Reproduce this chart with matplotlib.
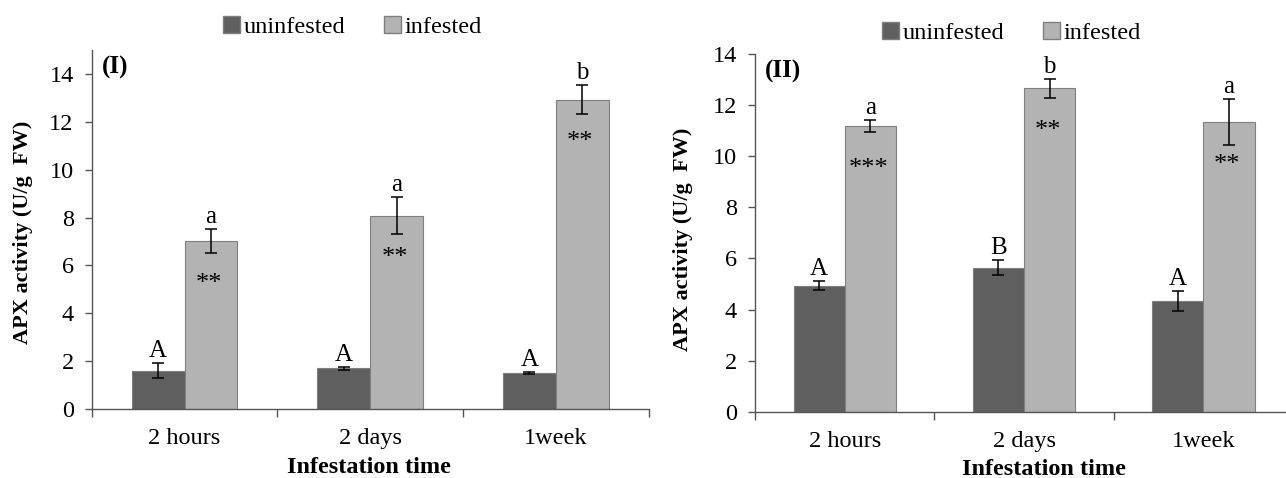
import numpy as np
import matplotlib.pyplot as plt
from matplotlib.patches import Patch

# ---- data ----
categories = ['2 hours', '2 days', '1week']

p1_uninf = [1.60, 1.70, 1.50]
p1_uninf_err = [0.32, 0.06, 0.03]
p1_inf = [7.02, 8.08, 12.93]
p1_inf_err = [0.51, 0.78, 0.60]
p1_uninf_letters = ['A', 'A', 'A']
p1_inf_letters = ['a', 'a', 'b']
p1_stars = ['**', '**', '**']

p2_uninf = [4.93, 5.64, 4.33]
p2_uninf_err = [0.17, 0.30, 0.38]
p2_inf = [11.17, 12.66, 11.34]
p2_inf_err = [0.23, 0.37, 0.90]
p2_uninf_letters = ['A', 'B', 'A']
p2_inf_letters = ['a', 'b', 'a']
p2_stars = ['***', '**', '**']

DARK = '#5f5f5f'
LIGHT = '#b3b3b3'
EDGE = '#7f7f7f'
AXC = '#555555'

plt.rcParams['font.family'] = ['Liberation Serif', 'DejaVu Serif']


def panel(ax, uninf, uerr, inf, ierr, ulet, ilet, stars, ymax, tag, xlab_x):
    x = np.arange(len(categories))
    w = 0.285
    ax.bar(x - w / 2, uninf, w, color=DARK, edgecolor=EDGE, linewidth=0.8,
           yerr=uerr, error_kw=dict(ecolor='black', elinewidth=1.1, capsize=4.3, capthick=1.1))
    ax.bar(x + w / 2, inf, w, color=LIGHT, edgecolor=EDGE, linewidth=0.8,
           yerr=ierr, error_kw=dict(ecolor='black', elinewidth=1.1, capsize=4.3, capthick=1.1))

    for i in range(len(categories)):
        ax.annotate(ulet[i], (x[i] - w / 2, uninf[i] + uerr[i]), xytext=(0, 4.5),
                    textcoords='offset points', ha='center', va='baseline', fontsize=18)
        ax.annotate(ilet[i], (x[i] + w / 2, inf[i] + ierr[i]), xytext=(0, 4.5),
                    textcoords='offset points', ha='center', va='baseline', fontsize=18)
        ax.annotate(stars[i], (x[i] + w / 2, inf[i]), xytext=(-1.5, -35),
                    textcoords='offset points', ha='center', va='baseline', fontsize=19)

    ax.set_xlim(-0.5, 2.5)
    ax.set_ylim(0, ymax)
    ax.set_yticks(np.arange(0, 15, 2))
    ax.set_xticks(x)
    ax.set_xticklabels(categories)
    ax.set_xticks(np.arange(-0.5, 3, 1), minor=True)
    ax.tick_params(axis='x', which='major', length=0, pad=14, labelsize=17.5)
    ax.tick_params(axis='x', which='minor', length=6, width=1, color=AXC, direction='out')
    ax.tick_params(axis='y', length=5, width=1, color=AXC, pad=8, labelsize=17.5)
    for s in ['top', 'right']:
        ax.spines[s].set_visible(False)
    for s in ['left', 'bottom']:
        ax.spines[s].set_color(AXC)
        ax.spines[s].set_linewidth(1)

    ax.set_ylabel('APX activity (U/g  FW)', fontsize=16, fontweight='bold')
    ax.set_xlabel('Infestation time', fontsize=17.5, fontweight='bold', va='center')
    ax.xaxis.set_label_coords(xlab_x, -0.162)
    ax.text(0.018, 0.952, tag, transform=ax.transAxes, fontsize=18,
            fontweight='bold', va='center', ha='left')


fig = plt.figure(figsize=(12.86, 4.78), dpi=100)
ax1 = fig.add_axes([0.0713, 0.1444, 0.4331, 0.751])
ax2 = fig.add_axes([0.5871, 0.1387, 0.4184, 0.7483])

panel(ax1, p1_uninf, p1_uninf_err, p1_inf, p1_inf_err,
      p1_uninf_letters, p1_inf_letters, p1_stars, 15, '(I)', 0.497)
panel(ax2, p2_uninf, p2_uninf_err, p2_inf, p2_inf_err,
      p2_uninf_letters, p2_inf_letters, p2_stars, 14, '(II)', 0.537)
ax1.yaxis.set_label_coords(-0.105, 0.493)
ax2.yaxis.set_label_coords(-0.115, 0.483)

handles = [Patch(facecolor=DARK, edgecolor=EDGE, label='uninfested'),
           Patch(facecolor=LIGHT, edgecolor=EDGE, label='infested')]
for cx, cy in [(0.274, 0.9435), (0.7866, 0.930)]:
    fig.legend(handles=handles, loc='center', bbox_to_anchor=(cx, cy), ncol=2,
               frameon=False, fontsize=17.5, handlelength=0.7, handleheight=0.7,
               handletextpad=0.15, columnspacing=1.6, borderpad=0)

fig.savefig('out.png', dpi=100)
